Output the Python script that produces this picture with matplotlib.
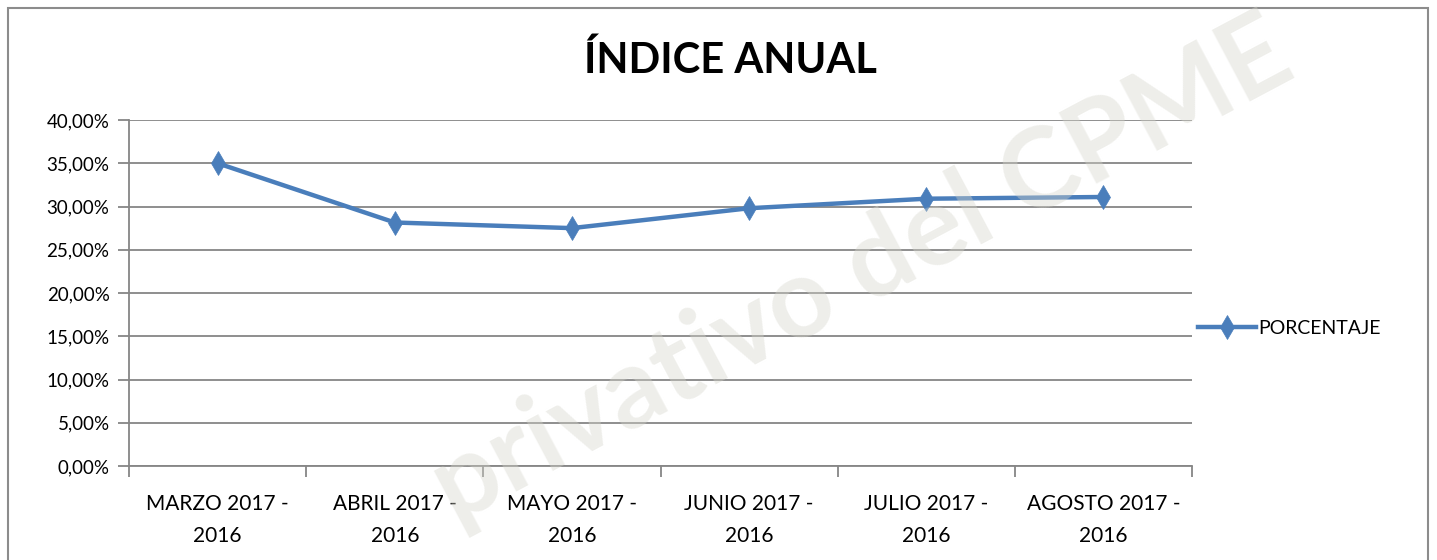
import matplotlib
matplotlib.use("Agg")
import matplotlib.pyplot as plt
from matplotlib.patches import Rectangle
from matplotlib.ticker import FuncFormatter, FixedLocator

categories = ["MARZO 2017 -\n2016", "ABRIL 2017 -\n2016", "MAYO 2017 -\n2016",
              "JUNIO 2017 -\n2016", "JULIO 2017 -\n2016", "AGOSTO 2017 -\n2016"]
porcentaje = [35.0, 28.15, 27.5, 29.8, 30.9, 31.1]
y_ticks = [0, 5, 10, 15, 20, 25, 30, 35, 40]
title = "ÍNDICE ANUAL"
series_name = "PORCENTAJE"
watermark = "privativo del CPME"

W, H = 1437, 560
fig = plt.figure(figsize=(W / 100, H / 100), dpi=100)
plt.rcParams['font.family'] = ['Lato', 'DejaVu Sans']

# outer chart border
fig.patches.append(Rectangle((8 / W, -0.01), (1428 - 8) / W, (H - 8) / H + 0.01,
                             transform=fig.transFigure, fill=False,
                             edgecolor='#8c8c8c', linewidth=1.5))

left, right, top, bottom = 129, 1192, 120, 466
ax = fig.add_axes([left / W, 1 - bottom / H, (right - left) / W, (bottom - top) / H])

x = list(range(len(categories)))
line, = ax.plot(x, porcentaje, color='#4A7EBB', linewidth=3.2, marker='d',
                markersize=12, markeredgewidth=0.5, markerfacecolor='#4A7EBB',
                markeredgecolor='#4A7EBB', label=series_name, zorder=3,
                solid_joinstyle='round')

ax.set_xlim(-0.5, len(categories) - 0.5)
ax.set_ylim(0, 40)
ax.yaxis.set_major_locator(FixedLocator(y_ticks))
ax.yaxis.set_major_formatter(FuncFormatter(lambda v, p: f"{v:.2f}".replace('.', ',') + "%"))
ax.grid(axis='y', color='#868686', linewidth=1.3)
ax.set_axisbelow(True)

ax.set_xticks([i - 0.5 for i in range(len(categories) + 1)])
ax.set_xticklabels([])
ax.set_xticks(x, minor=True)
ax.set_xticklabels(categories, minor=True, fontsize=15, linespacing=1.75)
ax.tick_params(axis='x', which='minor', length=0, pad=20)
ax.tick_params(axis='x', which='major', length=8, color='#868686', width=1.3)
ax.tick_params(axis='y', length=8, color='#868686', width=1.3, labelsize=13.5, pad=6)

for s in ['top', 'right']:
    ax.spines[s].set_visible(False)
for s in ['left', 'bottom']:
    ax.spines[s].set_color('#868686')
    ax.spines[s].set_linewidth(1.3)

fig.text(730 / W, 1 - 60 / H, title, ha='center', va='center', fontsize=30,
         fontweight='bold')

fig.legend(handles=[line], loc='center left', bbox_to_anchor=(1190 / W, 1 - 328 / H),
           frameon=False, fontsize=14, handlelength=3.0, handletextpad=0.1,
           borderaxespad=0)

# watermark
fig.text(862 / W, 1 - 272 / H, watermark, ha='center', va='center',
         rotation=28, fontsize=80, fontweight='bold', color='#d6d6cc', alpha=0.4,
         zorder=10)

fig.savefig("out.png", dpi=100)
